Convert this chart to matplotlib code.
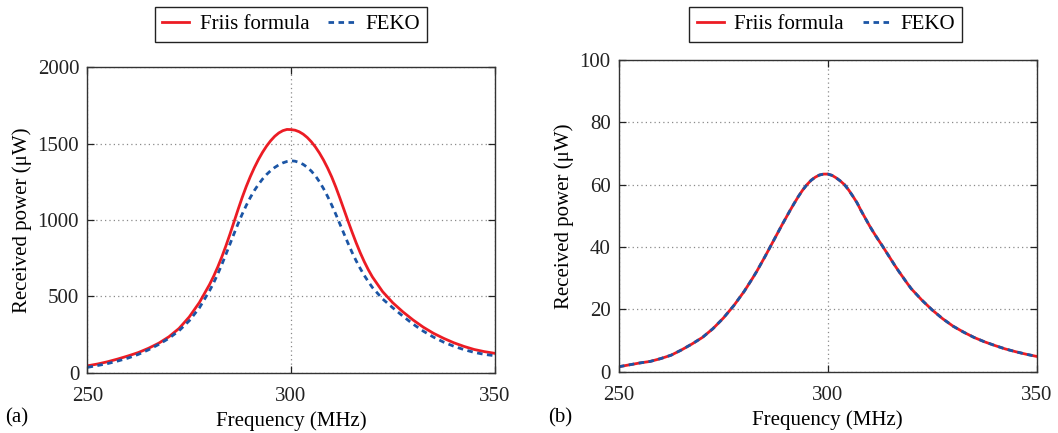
import numpy as np
import matplotlib
matplotlib.use('Agg')
import matplotlib.pyplot as plt

plt.rcParams['font.family'] = ['Liberation Serif', 'DejaVu Serif']

# frequency grid (MHz), finer around the resonance
freq = [250, 252.5, 255, 257.5, 260, 262.5, 265, 267.5, 270, 272.5, 275,
        277.5, 280,
        281, 282, 283, 284, 285, 286, 287, 288, 289, 290, 291, 292, 293,
        294, 295, 296, 297, 298, 299,
        300, 301, 302, 303, 304, 305, 306, 307, 308, 309, 310, 311, 312,
        313, 314, 315, 316, 317, 318, 319, 320,
        322.5, 325, 327.5, 330, 332.5, 335, 337.5, 340, 342.5, 345, 347.5, 350]

# (a) received power, uW
friis_a = [45, 57, 72, 90, 110, 132, 160, 193, 235, 290, 365, 460, 578,
           632, 692, 758, 830, 907, 988, 1069, 1147, 1219, 1284, 1343, 1396,
           1443, 1484, 1519, 1548, 1570, 1585, 1593,
           1592, 1588, 1578, 1562, 1540, 1512, 1478, 1438, 1392, 1340, 1282,
           1216, 1144, 1069, 994, 921, 851, 786, 727, 674, 627,
           531, 458, 398, 345, 298, 258, 225, 196, 172, 152, 138, 127]
feko_a = [35, 47, 60, 77, 96, 120, 150, 185, 225, 275, 340, 425, 537,
          589, 646, 708, 774, 842, 910, 976, 1038, 1095, 1147, 1193, 1233,
          1268, 1298, 1323, 1344, 1361, 1374, 1383,
          1388, 1385, 1377, 1364, 1345, 1320, 1289, 1250, 1205, 1154, 1098,
          1038, 975, 911, 848, 788, 733, 683, 637, 596, 558,
          483, 425, 370, 318, 272, 233, 200, 173, 151, 133, 120, 111]

# (b) received power, uW
friis_b = [1.6, 2.2, 2.8, 3.3, 4.2, 5.3, 7.0, 8.9, 11.0, 13.8, 17.2, 21.2, 25.8,
           27.9, 30.0, 32.2, 34.6, 37.0, 39.5, 42.0, 44.5, 47.0, 49.4, 51.8,
           54.1, 56.3, 58.3, 60.0, 61.4, 62.4, 63.1, 63.4,
           63.4, 63.0, 62.2, 61.2, 60.0, 58.3, 56.3, 54.2, 51.6, 49.2, 46.8,
           44.6, 42.5, 40.5, 38.4, 36.3, 34.2, 32.2, 30.3, 28.4, 26.6,
           23.0, 19.8, 17.0, 14.6, 12.7, 11.0, 9.6, 8.4, 7.3, 6.4, 5.6, 4.9]
feko_b = [1.6, 2.2, 2.8, 3.3, 4.2, 5.3, 7.0, 8.9, 11.0, 13.8, 17.2, 21.2, 25.8,
          27.9, 30.0, 32.2, 34.6, 37.0, 39.5, 42.0, 44.5, 47.0, 49.4, 51.8,
          54.1, 56.3, 58.3, 60.0, 61.4, 62.4, 63.1, 63.4,
          63.4, 63.0, 62.2, 61.2, 60.0, 58.3, 56.3, 54.2, 51.6, 49.2, 46.8,
          44.6, 42.5, 40.5, 38.4, 36.3, 34.2, 32.2, 30.3, 28.4, 26.6,
          23.0, 19.8, 17.0, 14.6, 12.7, 11.0, 9.6, 8.4, 7.3, 6.4, 5.6, 4.9]

red = '#ec1c24'
blue = '#1b55a5'
fs = 15

fig = plt.figure(figsize=(10.58, 4.33), dpi=100)
ax1 = fig.add_axes([0.0827, 0.1393, 0.3847, 0.7053])
ax2 = fig.add_axes([0.585, 0.1416, 0.3948, 0.7198])


def style(ax, ymax, yticks, leg_y, leg_x):
    ax.set_xlim(250, 350)
    ax.set_ylim(0, ymax)
    ax.set_xticks([250, 300, 350])
    ax.set_yticks(yticks)
    ax.grid(True, linestyle=(0, (1, 2.5)), color='#8a8a8a', linewidth=0.9)
    ax.tick_params(direction='in', top=True, right=True, length=5,
                   width=0.9, labelsize=fs, colors='#222222', pad=6)
    ax.tick_params(axis='x', pad=10)
    for sp in ax.spines.values():
        sp.set_color('#333333')
        sp.set_linewidth(1.0)
    ax.set_xlabel('Frequency (MHz)', fontsize=fs, labelpad=4)
    ax.set_ylabel('Received power (μW)', fontsize=fs, labelpad=4)
    ax.legend(loc='center', bbox_to_anchor=(leg_x, leg_y), ncol=2,
              fontsize=fs, frameon=True, fancybox=False, edgecolor='#222222',
              handlelength=1.3, handletextpad=0.5, columnspacing=0.9,
              borderpad=0.35, framealpha=1)
    ax.get_legend().get_frame().set_linewidth(1.0)


ax1.plot(freq, friis_a, color=red, lw=2.0, label='Friis formula')
ax1.plot(freq, feko_a, color=blue, lw=2.0, dashes=(2, 1.6), label='FEKO')
style(ax1, 2000, [0, 500, 1000, 1500, 2000], 1.14, 0.5)

ax2.plot(freq, friis_b, color=red, lw=2.0, label='Friis formula')
ax2.plot(freq, feko_b, color=blue, lw=2.0, dashes=(2, 1.6), label='FEKO')
style(ax2, 100, [0, 20, 40, 60, 80, 100], 1.114, 0.495)

fig.text(17 / 1058, 1 - 418 / 433, '(a)', fontsize=fs, ha='center', va='center')
fig.text(560 / 1058, 1 - 418 / 433, '(b)', fontsize=fs, ha='center', va='center')

fig.savefig('out.png', dpi=100)
